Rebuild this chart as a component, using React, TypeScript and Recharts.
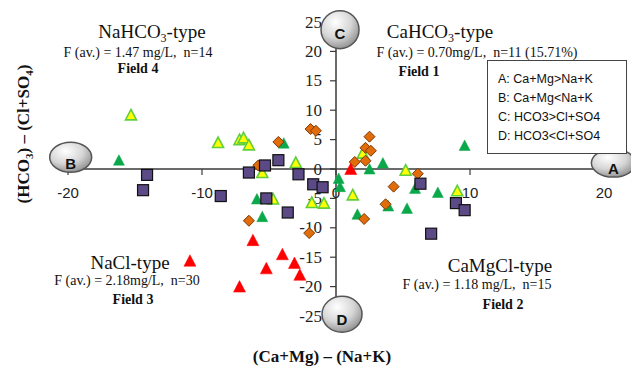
import React from "react";
import {
  ScatterChart,
  Scatter,
  XAxis,
  YAxis,
  ReferenceLine,
  ReferenceDot,
} from "recharts";

// axis ticks
const xTicks = [-20, -10, 0, 10, 20];
const yTicks = [25, 20, 15, 10, 5, 0, -5, -10, -15, -20, -25];

// samples, [ (Ca+Mg)-(Na+K), (HCO3)-(Cl+SO4) ]
const greenPts = [
  [-16.2, 1.5], [-3.9, 4.4], [-5.9, -5.1], [-5.5, -8.1], [0.2, -1.6],
  [0.3, -3.0], [2.5, 0.0], [3.5, 1.0], [5.9, -3.3], [7.6, -4.0],
  [9.6, 4.0], [3.9, -6.3], [5.3, -6.7], [1.6, -7.7],
];
const yellowPts = [
  [-15.3, 9.2], [-8.8, 4.5], [-7.2, 5.0], [-6.9, 5.3], [-6.5, 4.1],
  [-5.5, -0.6], [-3.0, 1.1], [-4.7, -5.1], [-1.8, -5.7], [-0.9, -5.8],
  [2.0, 2.7], [5.2, -0.2], [9.05, -3.7], [1.25, -4.4],
];
const orangePts = [
  [-4.3, 4.6], [-1.9, 6.8], [-1.5, 6.5], [-5.8, 0.6], [-6.5, -8.8],
  [-2.0, -10.9], [2.5, 5.5], [2.2, 3.6], [2.6, 3.1], [1.4, 1.2],
  [2.2, 1.4], [6.1, -0.8], [4.3, -3.0], [3.7, -6.0], [2.1, -8.5],
];
const purplePts = [
  [-14.1, -1.0], [-14.4, -3.6], [-8.6, -4.6], [-6.5, -0.6], [-5.3, 0.6],
  [-4.3, 1.5], [-2.8, -0.9], [-1.7, -2.6], [-1.0, -3.1], [-5.2, -5.0],
  [-3.6, -7.4], [6.3, -2.5], [8.95, -5.8], [9.6, -7.0], [7.1, -11.0],
];
const redPts = [
  [1.1, 0.0], [-6.2, -12.1], [-4.0, -14.5], [-3.1, -16.0], [-5.2, -16.9],
  [-2.7, -18.0], [-7.2, -20.0], [-10.9, -15.6],
];

const toPts = (a: number[][]) => a.map(([x, y]) => ({ x, y }));

const SERIF = "'Liberation Serif', 'Times New Roman', serif";
const SANS = "'Liberation Sans', Arial, sans-serif";
const AXIS = "#3a3a3a";

const tri = (fill: string, stroke: string, sw: number, w = 11, h = 10) =>
  (p: any) => (
    <polygon
      points={`${p.cx},${p.cy - h / 2 - 0.5} ${p.cx + w / 2},${p.cy + h / 2} ${p.cx - w / 2},${p.cy + h / 2}`}
      fill={fill}
      stroke={stroke}
      strokeWidth={sw}
      strokeLinejoin="miter"
    />
  );

const diamond = (p: any) => (
  <polygon
    points={`${p.cx},${p.cy - 5.5} ${p.cx + 5.5},${p.cy} ${p.cx},${p.cy + 5.5} ${p.cx - 5.5},${p.cy}`}
    fill="#e26b0a"
    stroke="#7a3a06"
    strokeWidth={1}
  />
);

const square = (p: any) => (
  <rect x={p.cx - 5.5} y={p.cy - 5.5} width={11} height={11} fill="#5b4a86" stroke="#111" strokeWidth={1.2} />
);

const pole = (letter: string, rx: number, ry: number, dy: number) => (p: any) => (
  <g>
    <ellipse cx={p.cx} cy={p.cy} rx={rx} ry={ry} fill="url(#poleGrad)" stroke="#555" strokeWidth={1.5} />
    <text x={p.cx} y={p.cy + dy} textAnchor="middle" dominantBaseline="central"
      fontFamily={SANS} fontWeight="bold" fontSize={15} fill="#111">{letter}</text>
  </g>
);

const Label = ({ left, top, size, bold, children }: any) => (
  <div style={{
    position: "absolute", left, top, transform: "translate(-50%, -50%)",
    fontFamily: SERIF, fontSize: size, fontWeight: bold ? "bold" : "normal",
    whiteSpace: "nowrap", color: "#111", lineHeight: 1,
  }}>{children}</div>
);

export default function App() {
  return (
    <div style={{ position: "absolute", left: 0, top: 0, width: 631, height: 375, background: "#fff" }}>
      <ScatterChart width={631} height={375} margin={{ top: 22, right: 27, bottom: 59, left: 68 }}>
        <defs>
          <radialGradient id="poleGrad" cx="38%" cy="30%" r="75%">
            <stop offset="0%" stopColor="#ffffff" />
            <stop offset="55%" stopColor="#d6d6d6" />
            <stop offset="100%" stopColor="#8c8c8c" />
          </radialGradient>
        </defs>
        <XAxis type="number" dataKey="x" domain={[-20, 20]} ticks={xTicks} allowDataOverflow hide />
        <YAxis type="number" dataKey="y" domain={[-25, 25]} ticks={yTicks} allowDataOverflow hide />
        <ReferenceLine y={0} stroke={AXIS} strokeWidth={1.5} />
        <ReferenceLine x={0} stroke={AXIS} strokeWidth={1.5} />
        {xTicks.map((v) => (
          <ReferenceDot key={`xt${v}`} x={v} y={0} ifOverflow="visible"
            shape={(p: any) => (
              <g>
                <line x1={p.cx} y1={p.cy} x2={p.cx} y2={p.cy + 6} stroke={AXIS} strokeWidth={1.2} />
                <text x={p.cx} y={p.cy + 23} textAnchor="middle" dominantBaseline="central"
                  fontFamily={SANS} fontSize={15} fill="#222">{v}</text>
              </g>
            )} />
        ))}
        {yTicks.map((v) => (
          <ReferenceDot key={`yt${v}`} x={0} y={v} ifOverflow="visible"
            shape={(p: any) => (
              <g>
                <line x1={p.cx - 6} y1={p.cy} x2={p.cx} y2={p.cy} stroke={AXIS} strokeWidth={1.2} />
                <text x={p.cx - 14} y={p.cy} textAnchor="end" dominantBaseline="central"
                  fontFamily={SERIF} fontSize={17} fill="#222">{v}</text>
              </g>
            )} />
        ))}
        <Scatter data={toPts(greenPts)} shape={tri("#0aa84a", "#0aa84a", 0.5)} isAnimationActive={false} />
        <Scatter data={toPts(yellowPts)} shape={tri("#ffff00", "#5fcf3c", 1.6)} isAnimationActive={false} />
        <Scatter data={toPts(orangePts)} shape={diamond} isAnimationActive={false} />
        <Scatter data={toPts(redPts)} shape={tri("#ff0000", "#ff0000", 0.5, 12, 11)} isAnimationActive={false} />
        <Scatter data={toPts(purplePts)} shape={square} isAnimationActive={false} />
        <ReferenceDot x={20.7} y={1.0} ifOverflow="visible" shape={pole("A", 22, 14, 5)} />
        <ReferenceDot x={-19.8} y={2.0} ifOverflow="visible" shape={pole("B", 21, 15, 6)} />
        <ReferenceDot x={0.3} y={23.7} ifOverflow="visible" shape={pole("C", 19, 19, 4)} />
        <ReferenceDot x={0.45} y={-24.7} ifOverflow="visible" shape={pole("D", 20, 18, 5)} />
      </ScatterChart>

      <Label left={152} top={33} size={19}>NaHCO<sub style={{ fontSize: 12 }}>3</sub>-type</Label>
      <Label left={138} top={53} size={14}>F (av.) = 1.47 mg/L, &nbsp;n=14</Label>
      <Label left={138} top={69} size={14} bold>Field 4</Label>

      <Label left={440} top={33} size={19}>CaHCO<sub style={{ fontSize: 12 }}>3</sub>-type</Label>
      <Label left={477} top={53} size={14}>F (av.) = 0.70mg/L, &nbsp;n=11 (15.71%)</Label>
      <Label left={419} top={72} size={14} bold>Field 1</Label>

      <Label left={130} top={262} size={19}>NaCl-type</Label>
      <Label left={127} top={281} size={14}>F (av.) = 2.18mg/L, &nbsp;n=30</Label>
      <Label left={133} top={300} size={14} bold>Field 3</Label>

      <Label left={500} top={265} size={19}>CaMgCl-type</Label>
      <Label left={477} top={285} size={14}>F (av.) = 1.18 mg/L, &nbsp;n=15</Label>
      <Label left={503} top={305} size={14} bold>Field 2</Label>

      <Label left={322} top={356} size={17} bold>(Ca+Mg) – (Na+K)</Label>
      <div style={{
        position: "absolute", left: 25, top: 134, transform: "translate(-50%, -50%) rotate(-90deg)",
        fontFamily: SERIF, fontSize: 17, fontWeight: "bold", whiteSpace: "nowrap", color: "#111", lineHeight: 1,
      }}>
        (HCO<sub style={{ fontSize: 11 }}>3</sub>) – (Cl+SO<sub style={{ fontSize: 11 }}>4</sub>)
      </div>

      <div style={{
        position: "absolute", left: 487, top: 60, width: 140, height: 94, boxSizing: "border-box",
        border: "1px solid #444", background: "#fff", padding: "9px 0 0 10px",
        fontFamily: SANS, fontSize: 12.5, lineHeight: "19px", color: "#111",
      }}>
        <div>A: Ca+Mg&gt;Na+K</div>
        <div>B: Ca+Mg&lt;Na+K</div>
        <div>C: HCO3&gt;Cl+SO4</div>
        <div>D: HCO3&lt;Cl+SO4</div>
      </div>
    </div>
  );
}
